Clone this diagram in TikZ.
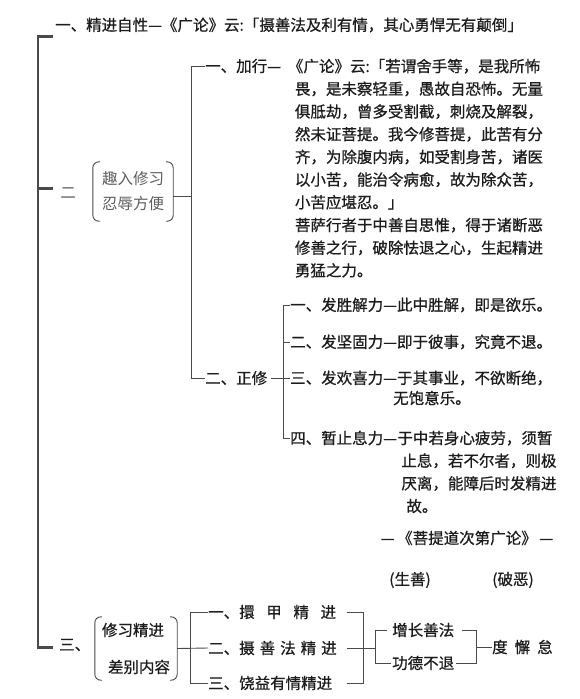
\documentclass[tikz,border=0pt]{standalone}
\usepackage{fontspec}
\setmainfont{Noto Sans CJK SC}
\newfontfamily\inkfont{Noto Sans CJK SC}[FakeBold=0.7]
\usetikzlibrary{positioning}
\definecolor{inkblk}{HTML}{1C1C1C}
\definecolor{rulegray}{HTML}{4A4A4A}
\definecolor{softgray}{HTML}{5C5C5C}

\newcommand{\drawparens}[1]{%
  \draw[rule,rounded corners=6pt] ([xshift=7pt]#1.north west) -- (#1.north west) -- (#1.south west) -- ([xshift=7pt]#1.south west);
  \draw[rule,rounded corners=6pt] ([xshift=-7pt]#1.north east) -- (#1.north east) -- (#1.south east) -- ([xshift=-7pt]#1.south east);}

\begin{document}
\begin{tikzpicture}[x=1pt,y=-1pt,
  txt/.style={inner sep=0pt,text=inkblk,font=\inkfont\fontsize{15.5}{22.7}\selectfont},
  para/.style={txt,align=left},
  pbox/.style={txt,align=left,text=softgray},
  rule/.style={draw=rulegray,line width=0.9pt},
  spine/.style={draw=rulegray,line width=1.6pt},
  stub/.style={draw=rulegray,line width=3pt}]
\useasboundingbox (0,0) rectangle (579,699);

\coordinate (mx) at (38,0);
\coordinate (mtop) at (53,36);
\coordinate (mmid) at (53,188);
\coordinate (mbot) at (53,647);
\coordinate (spJh) at (191,0);
\coordinate (spZx) at (283,0);
\coordinate (spXj) at (190,0);
\coordinate (spBl) at (347,0);
\coordinate (spB) at (363,0);
\coordinate (spZ) at (375,0);
\coordinate (spD) at (476,0);

\node[txt,anchor=west] (jx) at (55,25) {一、精进自性—《广论》云:「摄善法及利有情，其心勇悍无有颠倒」};

\node[txt,text=softgray,font=\fontsize{15.5}{22.7}\selectfont] (er) at (68,193) {二};
\node[pbox,align=center,minimum width=80pt,minimum height=59pt,font=\fontsize{15.5}{25}\selectfont] (qr) at (133,191.5) {趣入修习\\忍辱方便};
\drawparens{qr}

\node[txt,anchor=west] (jh) at (205,66) {一、加行—};
\node[para,anchor=north west] (jht) at ([xshift=13.5pt]jh.north east) {\hspace*{-7pt}《广论》云:「若谓舍手等，是我所怖\\
畏，是未察轻重，愚故自恐怖。无量\\
俱胝劫，曾多受割截，刺烧及解裂，\\
然未证菩提。我今修菩提，此苦有分\\
齐，为除腹内病，如受割身苦，诸医\\
以小苦，能治令病愈，故为除众苦，\\
小苦应堪忍。」\\
菩萨行者于中善自思惟，得于诸断恶\\
修善之行，破除怯退之心，生起精进\\
勇猛之力。};

\node[txt,anchor=west] (zx) at (205,378) {二、正修};
\node[txt,anchor=west] (f1) at (290,305) {一、发胜解力—此中胜解，即是欲乐。};
\node[txt,anchor=west] (f2) at (290,342) {二、发坚固力—即于彼事，究竟不退。};
\node[txt,anchor=west] (f3) at (290,378) {三、发欢喜力—于其事业，不欲断绝，};
\node[txt,anchor=west] (f3b) at (393,398) {无饱意乐。};
\node[txt,anchor=west] (f4) at (290,438) {四、暂止息力—};
\node[para,anchor=north west] (f4t) at (f4.north east) {于中若身心疲劳，须暂\\
\hspace*{4pt}止息，若不尔者，则极\\
\hspace*{4pt}厌离，能障后时发精进\\
\hspace*{9pt}故。};

\node[txt] (src) at (467,538) {—\,《菩提道次第广论》\,—};
\node[txt] (shs) at (410,580) {(生善)};
\node[txt] (poe) at (513,580) {(破恶)};

\node[txt,anchor=west] (san) at (59,645) {三、};
\node[pbox,text=inkblk,minimum width=82pt,minimum height=63pt] (xj) at (136,648.5) {修习精进\\[14.3pt]\hspace*{6pt}差别内容};
\drawparens{xj}
\node[txt,anchor=west] (b1) at (208,612) {一、擐\hspace{0.75em}甲\hspace{0.75em}精\hspace{0.75em}进};
\node[txt,anchor=west] (b2) at (208,648) {二、摄\hspace{5pt}善\hspace{5pt}法\hspace{5pt}精\hspace{5pt}进};
\node[txt,anchor=west] (b3) at (208,683) {三、饶益有情精进};
\node[txt,anchor=west] (z1) at (392,630) {增长善法};
\node[txt,anchor=west] (z2) at (392,663) {功德不退};
\node[txt,anchor=west] (dx) at (492,647) {度\hspace{7pt}懈\hspace{7pt}怠};

\draw[spine] (mtop -| mx) -- (mbot -| mx);
\draw[stub] ([xshift=-1pt]mtop -| mx) -- (mtop);
\draw[stub] (mmid -| mx) -- (mmid);
\draw[stub] ([xshift=-1pt]mbot -| mx) -- (mbot);

\draw[rule] (jh.west) -- (jh.west -| spJh) -- (zx.west -| spJh) -- (zx.west);
\draw[rule] ([yshift=-5pt]qr.east) -- ([yshift=-5pt]qr.east -| spJh);

\draw[rule] (f1.west) -- (f1.west -| spZx) -- (f4.west -| spZx) -- (f4.west);
\draw[rule] (f2.west) -- (f2.west -| spZx);
\draw[rule] ([xshift=4pt]zx.east) -- (f3.west);

\draw[rule] (xj.east) -- (b2.west);
\draw[rule] (b1.west) -- (b1.west -| spXj) -- (b3.west -| spXj) -- (b3.west);
\draw[rule] (b1.east -| spBl) -- (b1.east -| spB) -- (b3.east -| spB) -- (b3.east -| spBl);
\draw[rule] (b2.east -| spBl) -- (b2.east -| spZ);
\draw[rule] ([xshift=-5pt]z1.west) -- (z1.west -| spZ) -- (z2.west -| spZ) -- ([xshift=-1pt]z2.west);
\draw[rule] ([xshift=8pt]z1.east) -- (z1.east -| spD) -- (z2.east -| spD) -- ([xshift=2pt]z2.east);
\draw[rule] (dx.west -| spD) -- (dx.west);
\end{tikzpicture}
\end{document}
